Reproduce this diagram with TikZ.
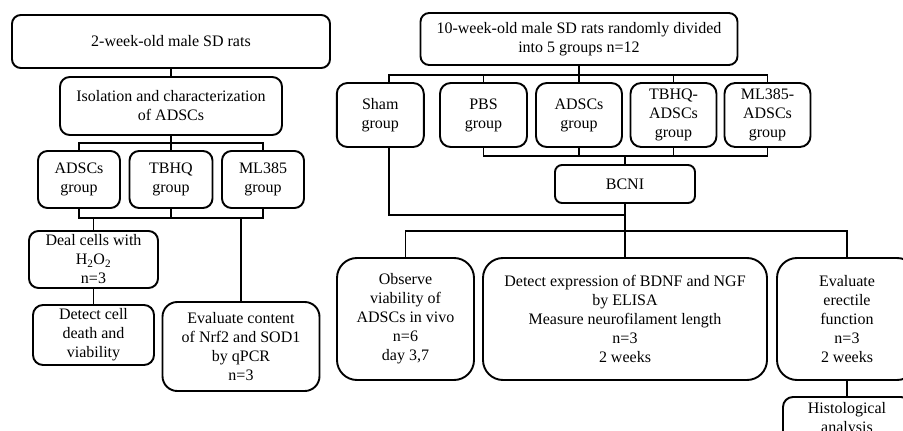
\documentclass[tikz,border=0pt]{standalone}
\usepackage{fontspec}
\setmainfont{Liberation Serif}
\begin{document}
\begin{tikzpicture}[x=1pt,y=-1pt,
  box/.style={draw, line width=1.9pt, rounded corners=#1, align=center, inner sep=0pt,
    font=\fontsize{16}{19}\selectfont},
  box/.default=10pt,
  conn/.style={line width=1.9pt}]
\clip (0,0) rectangle (903,431);
\useasboundingbox (0,0) rectangle (903,431);
% left part
\node[box=8.8pt, minimum width=318pt, minimum height=53pt] (A) at (171,41.5) {2-week-old male SD rats};
\node[box=9.7pt, minimum width=222pt, minimum height=58pt] (B) at (171,106) {Isolation and characterization\\of ADSCs};
\node[box=9.5pt, minimum width=82pt, minimum height=57pt] (G1) at (79,179.5) {ADSCs\\group};
\node[box=9.5pt, minimum width=83pt, minimum height=57pt] (G2) at (171,179.5) {TBHQ\\group};
\node[box=9.5pt, minimum width=82pt, minimum height=57pt] (G3) at (263,179.5) {ML385\\group};
\node[box=9.5pt, minimum width=129pt, minimum height=57pt] (Deal) at (93.5,259.5) {Deal cells with\\H\textsubscript{2}O\textsubscript{2}\\n=3};
\node[box=10pt, minimum width=121pt, minimum height=60pt] (Detect) at (93.5,335) {Detect cell\\death and\\viability};
\node[box=14.8pt, minimum width=157pt, minimum height=89pt] (Eval) at (241,346.5) {Evaluate content\\of Nrf2 and SOD1\\by qPCR\\n=3};
% right part
\node[box=8.7pt, minimum width=317pt, minimum height=52pt] (T) at (579,39) {10-week-old male SD rats randomly divided\\into 5 groups n=12};
\node[box=10.7pt, minimum width=87pt, minimum height=64pt] (Sham) at (380.3,115) {Sham\\group};
\node[box=10.7pt, minimum width=87pt, minimum height=64pt] (PBS) at (483.5,115) {PBS\\group};
\node[box=10.7pt, minimum width=86pt, minimum height=64pt] (ADS) at (579,115) {ADSCs\\group};
\node[box=10.7pt, minimum width=86pt, minimum height=64pt] (TB) at (673.5,115) {TBHQ-\\ADSCs\\group};
\node[box=10.7pt, minimum width=86pt, minimum height=64pt] (ML) at (767.5,115) {ML385-\\ADSCs\\group};
\node[box=7pt, minimum width=140pt, minimum height=38pt] (BCNI) at (625,184) {BCNI};
\node[box=20pt, minimum width=137pt, minimum height=122pt] (Obs) at (405.5,319) {Observe\\viability of\\ADSCs in vivo\\n=6\\day 3,7};
\node[box=20pt, minimum width=284pt, minimum height=122pt] (Det) at (625,319) {Detect expression of BDNF and NGF\\by ELISA\\Measure neurofilament length\\n=3\\2 weeks};
\node[box=20pt, minimum width=140pt, minimum height=122pt] (Eva) at (847,319) {Evaluate\\erectile\\function\\n=3\\2 weeks};
\node[box=10pt, minimum width=128pt, minimum height=44pt] (Hist) at (847,419) {Histological\\analysis};
% left connectors
\coordinate (b1) at (171,143);
\coordinate (b2) at (171,218);
\draw[conn] (A.south) -- (B.north);
\draw[conn] (B.south) -- (b1);
\draw[conn] (G1.north) |- (b1) -| (G3.north);
\draw[conn] (G2.north) -- (b1);
\draw[conn] (G1.south) |- (b2) -| (G3.south);
\draw[conn] (G2.south) -- (b2);
\draw[conn] (Deal.north) -- (Deal.north |- b2);
\draw[conn] (Eval.north) -- (Eval.north |- b2);
\draw[conn] (Deal.south) -- (Detect.north);
% right connectors
\coordinate (b3) at (579,75);
\coordinate (b4) at (625,156);
\coordinate (b5) at (625,215);
\coordinate (b6) at (625,231);
\draw[conn] (T.south) -- (b3);
\draw[conn] ([xshift=9pt]Sham.north) |- (b3) -| (ML.north);
\foreach \n in {PBS,ADS,TB} \draw[conn] (\n.north) -- (\n.north |- b3);
\draw[conn] (PBS.south) |- (b4) -| (ML.south);
\foreach \n in {ADS,TB} \draw[conn] (\n.south) -- (\n.south |- b4);
\draw[conn] (b4) -- (BCNI.north);
\draw[conn] ([xshift=9pt]Sham.south) |- (b5);
\draw[conn] (BCNI.south) -- (b6);
\draw[conn] (Obs.north) |- (b6) -| (Eva.north);
\draw[conn] (Det.north) -- (b6);
\draw[conn] (Eva.south) -- (Hist.north);
\end{tikzpicture}
\end{document}
